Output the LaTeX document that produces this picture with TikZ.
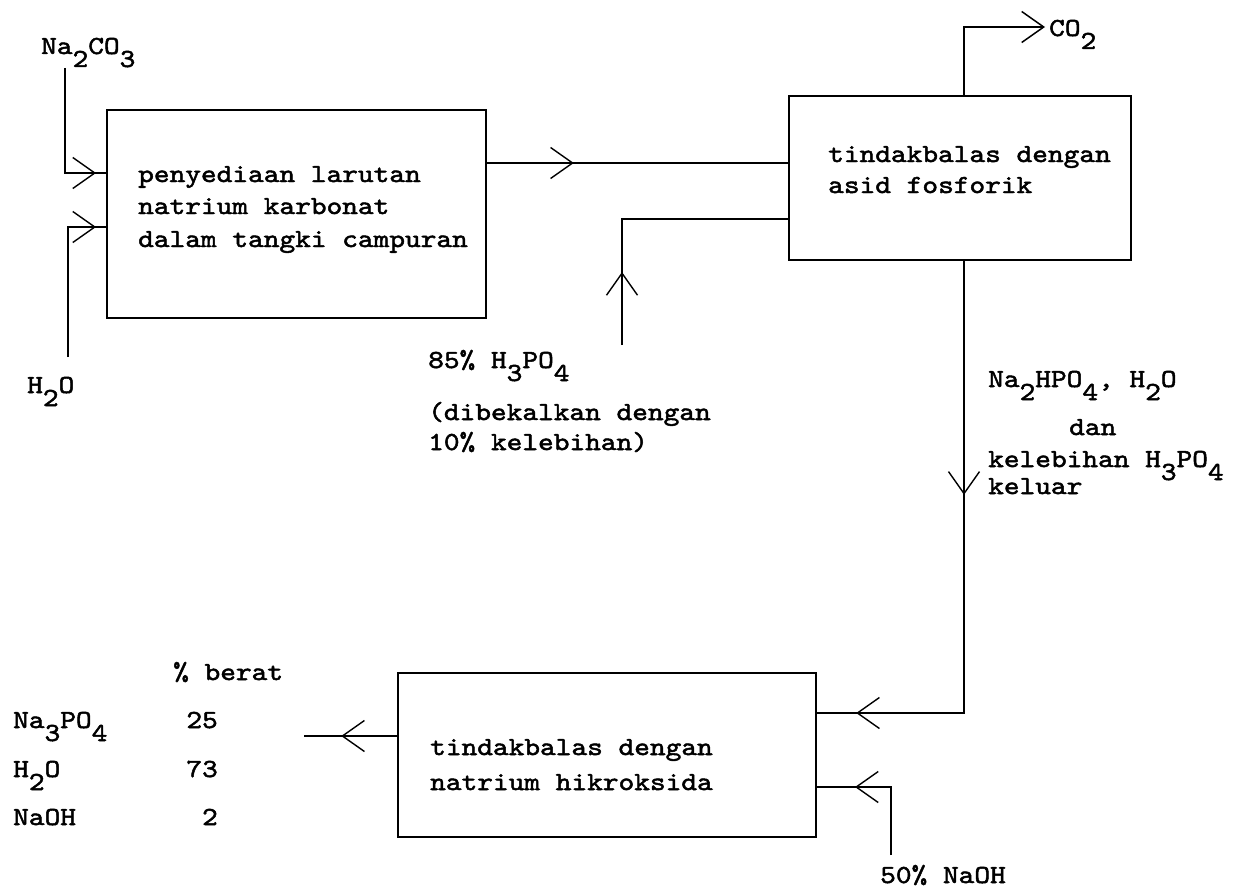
\documentclass[tikz,border=0pt]{standalone}
\usepackage{fontspec}
\setmainfont{lmmono10-regular.otf}[FakeStretch=1.15,RawFeature={embolden=1.9}]
\usetikzlibrary{arrows.meta,decorations.markings}
\newcommand{\lo}[1]{\raisebox{-13pt}{#1}}
\tikzset{
  chev/.tip={Straight Barb[length=22pt,width=31pt]},
  flow/.style={line width=1.5pt},
  tipat/.style={postaction={decorate,decoration={markings,mark=at position #1 with {\arrow[line width=1.4pt]{chev}}}}},
  box/.style={draw,line width=1.6pt,inner sep=0pt},
  txt/.style={anchor=base west,inner sep=0pt},
  txtr/.style={anchor=base east,inner sep=0pt}
}
\begin{document}
\begin{tikzpicture}[x=1pt,y=-1pt,font=\fontsize{26}{33}\selectfont]
\useasboundingbox (0,0) rectangle (1238,888);
% boxes
\node[box,minimum width=379pt,minimum height=208pt] (b1) at (296.5,214) {};
\node[box,minimum width=342pt,minimum height=164pt] (b2) at (960,178) {};
\node[box,minimum width=418pt,minimum height=164pt] (b3) at (607,755) {};
% box texts
\node[txt] (t11) at (138,182) {penyediaan larutan};
\node[txt] (t12) at (138,214) {natrium karbonat};
\node[txt] (t13) at (138,247) {dalam tangki campuran};
\node[txt] (t21) at (828,162) {tindakbalas dengan};
\node[txt] (t22) at (828,193) {asid fosforik};
\node[txt] (t31) at (430,755) {tindakbalas dengan};
\node[txt] (t32) at (430,790) {natrium hikroksida};
% labels
\node[txt] (na) at (41,54) {Na\lo{2}CO\lo{3}};
\node[txt] (h2o) at (27,393) {H\lo{2}O};
\node[txt] (co) at (1049,36) {CO\lo{2}};
\node[txt] (h3a) at (428,368) {85\% H\lo{3}PO\lo{4}};
\node[txt] (h3b) at (428,420) {(dibekalkan dengan};
\node[txt] (h3c) at (428,450) {10\% kelebihan)};
\node[txt] (m1) at (988,387) {Na\lo{2}HPO\lo{4}, H\lo{2}O};
\node[txt] (m2) at (1069,435) {dan};
\node[txt] (m3) at (988,467) {kelebihan H\lo{3}PO\lo{4}};
\node[txt] (m4) at (988,494) {keluar};
\node[txt] (naoh) at (880,883) {50\% NaOH};
\node[txt] (th) at (173,680) {\% berat};
\node[txt] (r1) at (13,728) {Na\lo{3}PO\lo{4}};
\node[txtr] (v1) at (218,728) {25};
\node[txt] (r2) at (13,777) {H\lo{2}O};
\node[txtr] (v2) at (218,777) {73};
\node[txt] (r3) at (13,825) {NaOH};
\node[txtr] (v3) at (218,825) {2};
% free ends
\coordinate (naS) at (65,68);
\coordinate (h2oN) at (68,357);
\coordinate (h3N) at (622,345);
\coordinate (coT) at (1045,27);
\coordinate (naohN) at (891,855);
\coordinate (outT) at (304,736);
% connectors
\draw[flow,tipat=136pt] (naS) |- (b1.west |- 0,173);
\draw[flow,tipat=158pt] (h2oN) |- (b1.west |- 0,227);
\draw[flow,tipat=87pt] (b1.east |- 0,163) -- (b2.west |- 0,163);
\draw[flow,tipat=73pt] (h3N) |- (b2.west |- 0,219);
\draw[flow,-{chev}] (b2.north -| 964,0) |- (coT);
\draw[flow,tipat=234pt,tipat=560pt] (b2.south -| 964,0) |- (b3.east |- 0,713);
\draw[flow,tipat=104pt] (naohN) |- (b3.east |- 0,787);
\draw[flow,tipat=56pt] (b3.west |- 0,736) -- (outT);
\end{tikzpicture}
\end{document}
